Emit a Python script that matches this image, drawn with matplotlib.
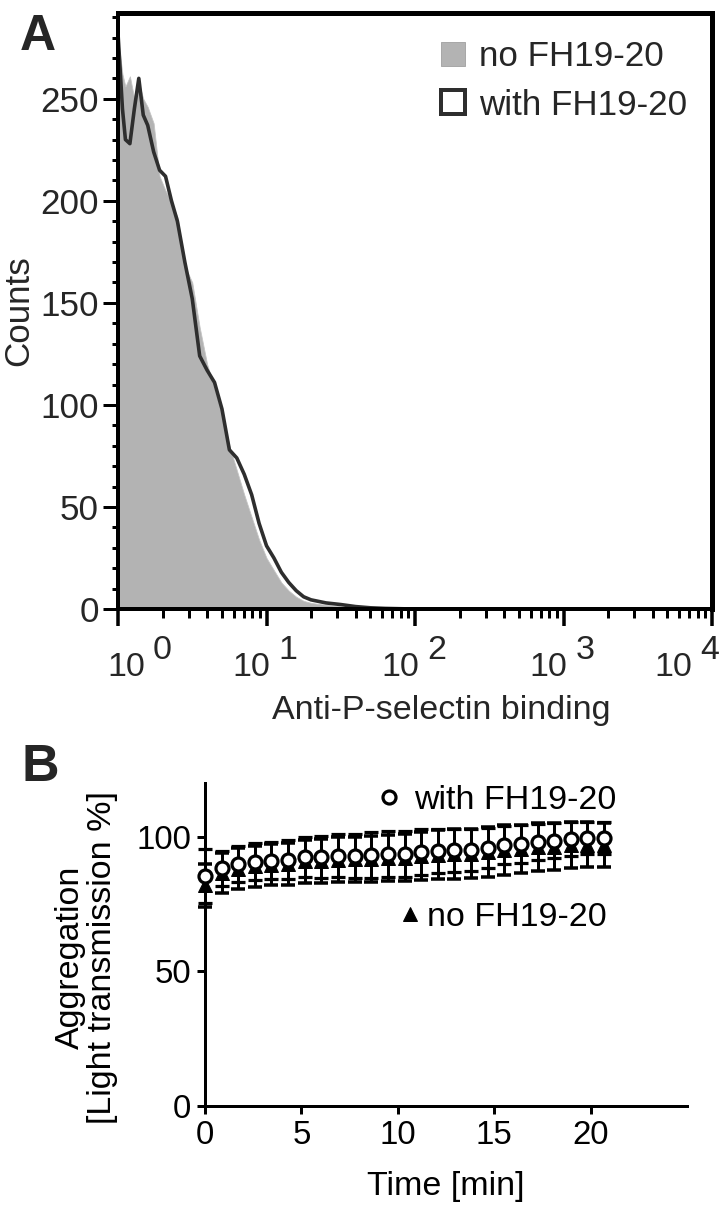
import matplotlib
matplotlib.use('Agg')
import matplotlib.pyplot as plt
from matplotlib.patches import Patch
from matplotlib.lines import Line2D
import numpy as np

plt.rcParams['font.family'] = ['Liberation Sans', 'DejaVu Sans']

# Panel A: flow cytometry histogram (log10 of anti-P-selectin binding)
log_binding = [0.0, 0.03, 0.05, 0.08, 0.11, 0.14, 0.17, 0.2, 0.24, 0.28, 0.32, 0.36,
               0.4, 0.45, 0.5, 0.55, 0.6, 0.65, 0.7, 0.75, 0.8, 0.85, 0.9, 0.95,
               1.0, 1.05, 1.1, 1.15, 1.2, 1.25, 1.3, 1.4, 1.5, 1.6, 1.7, 1.8, 2.0, 4.0]
counts_no = [280, 262, 256, 261, 250, 258, 250, 246, 238, 212, 205, 199,
             192, 168, 160, 138, 120, 108, 96, 80, 68, 56, 45, 34,
             25, 19, 13, 9, 6, 4, 3, 2, 1.3, 0.7, 0.3, 0.1, 0, 0]
counts_with = [282, 245, 230, 228, 245, 260, 242, 237, 224, 215, 212, 200,
               190, 170, 152, 124, 117, 111, 98, 78, 74, 66, 56, 42,
               31, 25, 18, 13, 9, 6, 4.5, 3, 2.2, 1.2, 0.6, 0.3, 0, 0]
decades = [0, 1, 2, 3, 4]

# Panel B: aggregation over time
times = [0, 0.86, 1.73, 2.59, 3.45, 4.31, 5.18, 6.04, 6.9, 7.76, 8.63, 9.49, 10.35,
         11.21, 12.08, 12.94, 13.8, 14.66, 15.53, 16.39, 17.25, 18.11, 18.98, 19.84, 20.7]
with_mean = [85.4, 88.4, 89.9, 90.8, 91.2, 91.5, 92.5, 92.5, 93.0, 93.0, 93.3, 93.7, 93.7,
             94.4, 94.8, 95.1, 95.1, 95.9, 97.0, 97.4, 98.1, 98.5, 99.3, 99.6, 99.6]
with_sd = [10, 6.5, 6.7, 6.8, 7, 7.2, 7.5, 7.8, 8, 8.2, 8.4, 8.5, 8.5,
           8.4, 8.2, 8, 7.8, 7.5, 7.2, 7, 6.8, 6.5, 6.3, 6.1, 6.0]
no_mean = [82.0, 86.6, 88.2, 89.1, 89.6, 90.0, 90.9, 91.0, 91.5, 91.6, 91.9, 92.2, 92.3,
           92.9, 93.3, 93.6, 93.7, 94.3, 95.2, 95.5, 96.1, 96.4, 96.9, 97.1, 97.0]
no_sd = [8, 7.5, 7.5, 7.6, 7.6, 7.8, 8.1, 8.3, 8.4, 8.5, 8.6, 8.6, 8.7,
         9.0, 9.1, 9.2, 9.1, 9.2, 9.4, 9.1, 8.9, 8.6, 8.5, 8.3, 8.2]

gray = '#b3b3b3'
dark = '#2e2e2e'
txt = '#262626'

fig = plt.figure(figsize=(10, 16.75), dpi=72)

# ---------------- Panel A ----------------
ax = fig.add_axes([0.1639, 0.4950, 0.825, 0.4942])
x = 10 ** np.array(log_binding)
ax.fill_between(x, counts_no, 0, color=gray, lw=0.8, edgecolor='#c4c4c4')
ax.plot(x, counts_with, color=dark, lw=3.6)
ax.set_xscale('log')
ax.set_xlim(1, 1e4)
ax.set_ylim(0, 292)
ax.set_yticks([0, 50, 100, 150, 200, 250])
ax.set_yticks(np.arange(10, 292, 10), minor=True)
for s in ['left', 'bottom']:
    ax.spines[s].set_linewidth(4)
for s in ['top', 'right']:
    ax.spines[s].set_linewidth(5)
ax.tick_params(axis='y', which='major', length=15, width=3, labelsize=35, pad=4, colors='black', labelcolor=txt)
ax.tick_params(axis='y', which='minor', length=6, width=3)
ax.tick_params(axis='x', which='major', length=17, width=3.5, labelbottom=False)
ax.tick_params(axis='x', which='minor', length=9, width=3)

# decade labels drawn as "10" with a full-size raised exponent
shifts = {0: 23, 4: -24}
for d in decades:
    s = shifts.get(d, 0)
    ax.annotate('10', xy=(10 ** d, 0), xycoords=('data', 'axes fraction'),
                xytext=(4 + s, -58), textcoords='offset points', ha='right', va='center',
                fontsize=34, color=txt, annotation_clip=False)
    ax.annotate(str(d), xy=(10 ** d, 0), xycoords=('data', 'axes fraction'),
                xytext=(12 + s, -41), textcoords='offset points', ha='left', va='center',
                fontsize=34, color=txt, annotation_clip=False)

ax.set_ylabel('Counts', fontsize=35, color=txt)
ax.yaxis.set_label_coords(-0.14, 0.5)
ax.set_xlabel('Anti-P-selectin binding', fontsize=34, color=txt)
ax.xaxis.set_label_coords(0.545, -0.145)

handles = [Patch(facecolor=gray, edgecolor='#a8a8a8', lw=1),
           Patch(facecolor='white', edgecolor=dark, lw=4)]
leg = ax.legend(handles, ['no FH19-20', 'with FH19-20'], loc='upper left',
                bbox_to_anchor=(0.543, 0.955), frameon=False, fontsize=35,
                handlelength=0.7, handleheight=0.68, handletextpad=0.4,
                labelspacing=0.45, borderpad=0, borderaxespad=0)
for t in leg.get_texts():
    t.set_color(txt)

fig.text(0.028, 0.9885, 'A', fontsize=50, fontweight='bold', color=txt, va='top')

# ---------------- Panel B ----------------
bx = fig.add_axes([0.2847, 0.0829, 0.6694, 0.2678])
bx.errorbar(times, no_mean, yerr=no_sd, fmt='^', color='black', ms=14,
            elinewidth=3, capsize=7, capthick=3.5, clip_on=False, zorder=3)
bx.errorbar(times, with_mean, yerr=with_sd, fmt='o', color='black', mfc='white',
            mec='black', mew=3.2, ms=13, elinewidth=3, capsize=7, capthick=3.5,
            clip_on=False, zorder=4)
bx.set_xlim(0, 25)
bx.set_ylim(0, 120)
bx.set_xticks([0, 5, 10, 15, 20])
bx.set_yticks([0, 50, 100])
for s in ['top', 'right']:
    bx.spines[s].set_visible(False)
for s in ['left', 'bottom']:
    bx.spines[s].set_linewidth(3)
bx.tick_params(length=8, width=3, labelsize=33, pad=6, labelcolor='black')
bx.set_xlabel('Time [min]', fontsize=34)
bx.xaxis.set_label_coords(0.5, -0.2)
bx.set_ylabel('Aggregation\n[Light transmission %]', fontsize=34, linespacing=1.05)
bx.yaxis.set_label_coords(-0.18, 0.46)

h_with = Line2D([], [], ls='none', marker='o', ms=13, mfc='white', mec='black', mew=3.2)
h_no = Line2D([], [], ls='none', marker='^', ms=14, color='black')
leg1 = bx.legend([h_with], ['with FH19-20'], loc='center left', bbox_to_anchor=(0.36, 0.947),
                 frameon=False, fontsize=34, handlelength=0.6, handletextpad=0.45,
                 borderpad=0, borderaxespad=0)
bx.add_artist(leg1)
bx.legend([h_no], ['no FH19-20'], loc='center left', bbox_to_anchor=(0.405, 0.585),
          frameon=False, fontsize=34, handlelength=0.6, handletextpad=0.2,
          borderpad=0, borderaxespad=0)

fig.text(0.03, 0.384, 'B', fontsize=52, fontweight='bold', color=txt, va='top')

fig.savefig('out.png', dpi=72)
